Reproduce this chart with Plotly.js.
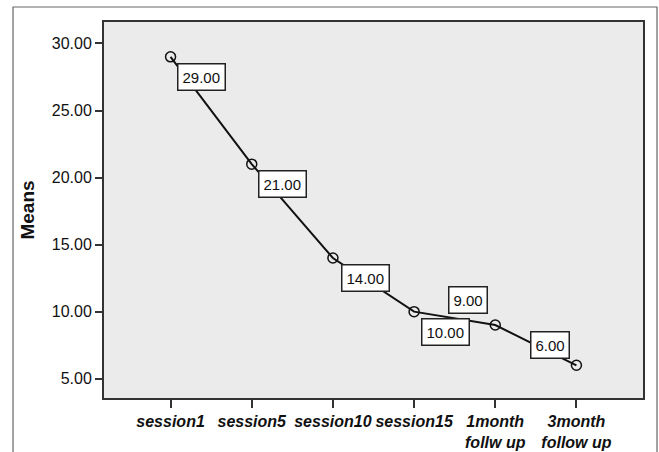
<!DOCTYPE html>
<html>
<head>
<meta charset="utf-8">
<script src="https://cdn.plot.ly/plotly-3.0.1.min.js"></script>
<style>html,body{margin:0;padding:0;background:#fff;}#chart{width:659px;height:452px;}</style>
</head>
<body>
<div id="chart"></div>
<script>
// Data
var categories = ["session1", "session5", "session10", "session15", "1month<br>follw up", "3month<br>follow up"];
var means = [29.00, 21.00, 14.00, 10.00, 9.00, 6.00];
var yTickValues = [5, 10, 15, 20, 25, 30];

// Label placement (style only): anchor side and pixel shift
var labelPlacement = [
  {xa: "left", ya: "top", dx: 6, dy: -6},
  {xa: "left", ya: "top", dx: 6, dy: -6},
  {xa: "left", ya: "top", dx: 8, dy: -6},
  {xa: "left", ya: "top", dx: 7, dy: -6},
  {xa: "right", ya: "bottom", dx: -7, dy: 11},
  {xa: "right", ya: "bottom", dx: -6, dy: 6}
];

var xIdx = categories.map(function(_, i){ return i; });

var trace = {
  x: xIdx,
  y: means,
  mode: "lines+markers",
  type: "scatter",
  line: {color: "#111", width: 2},
  marker: {symbol: "circle-open", size: 10, color: "#111", line: {width: 1.5, color: "#111"}},
  hoverinfo: "none",
  showlegend: false
};

var annotations = means.map(function(v, i){
  var p = labelPlacement[i];
  return {
    x: xIdx[i], y: v, xref: "x", yref: "y",
    text: v.toFixed(2),
    showarrow: false,
    xanchor: p.xa, yanchor: p.ya,
    xshift: p.dx, yshift: p.dy,
    bgcolor: "#ffffff",
    bordercolor: "#222",
    borderwidth: 1.5,
    borderpad: 4,
    font: {family: "Liberation Sans, Arial, sans-serif", size: 15, color: "#111"}
  };
});

var frame = {type: "path", xref: "paper", yref: "paper",
  path: "M -0.1688,-0.2 L -0.1688,1.0399 L 1.0260,1.0399 L 1.0260,-0.2",
  line: {color: "#666", width: 1.2}};

var layout = {
  width: 659, height: 452,
  margin: {l: 104, r: 16, t: 22, b: 54},
  paper_bgcolor: "#ffffff",
  plot_bgcolor: "#ebebeb",
  font: {family: "Liberation Sans, Arial, sans-serif", color: "#111"},
  xaxis: {
    range: [-0.82, 5.82],
    tickvals: xIdx,
    ticktext: categories.map(function(c){ return "<b><i>" + c + "</i></b>"; }),
    tickfont: {size: 16, color: "#111"},
    showgrid: false, zeroline: false,
    showline: true, linecolor: "#333", linewidth: 2, mirror: true,
    ticks: "outside", ticklen: 8, tickwidth: 2, tickcolor: "#333"
  },
  yaxis: {
    range: [3.56, 31.6],
    tickvals: yTickValues,
    ticktext: yTickValues.map(function(v){ return v.toFixed(2); }),
    tickfont: {size: 16, color: "#111"},
    showgrid: false, zeroline: false,
    showline: true, linecolor: "#333", linewidth: 2, mirror: true,
    ticks: "outside", ticklen: 7, tickwidth: 2, tickcolor: "#333",
    title: {text: "<b>Means</b>", font: {size: 19, color: "#111"}, standoff: 12}
  },
  annotations: annotations,
  shapes: [frame]
};

Plotly.newPlot("chart", [trace], layout, {displayModeBar: false, staticPlot: true});
</script>
</body>
</html>
